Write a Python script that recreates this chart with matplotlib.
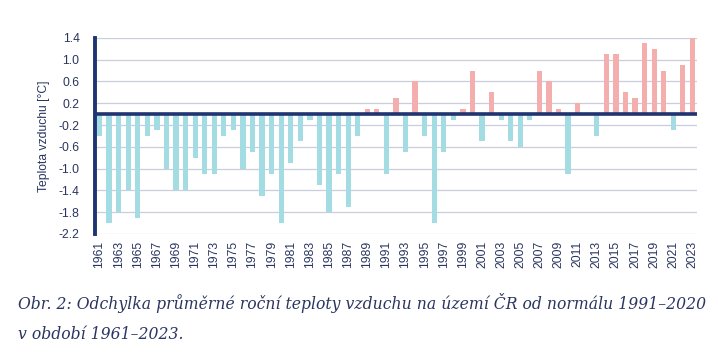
import numpy as np
import matplotlib
matplotlib.use("Agg")
import matplotlib.pyplot as plt
from matplotlib import font_manager

years = np.arange(1961, 2024)
anomaly = [
    -0.4, -2.0, -1.8, -1.4, -1.9, -0.4, -0.3, -1.0, -1.4, -1.4,   # 1961-1970
    -0.8, -1.1, -1.1, -0.4, -0.3, -1.0, -0.7, -1.5, -1.1, -2.0,   # 1971-1980
    -0.9, -0.5, -0.1, -1.3, -1.8, -1.1, -1.7, -0.4, 0.1, 0.1,     # 1981-1990
    -1.1, 0.3, -0.7, 0.6, -0.4, -2.0, -0.7, -0.1, 0.1, 0.8,       # 1991-2000
    -0.5, 0.4, -0.1, -0.5, -0.6, -0.1, 0.8, 0.6, 0.1, -1.1,       # 2001-2010
    0.2, 0.0, -0.4, 1.1, 1.1, 0.4, 0.3, 1.3, 1.2, 0.8,            # 2011-2020
    -0.3, 0.9, 1.4,                                               # 2021-2023
]
yticks = [1.4, 1.0, 0.6, 0.2, -0.2, -0.6, -1.0, -1.4, -1.8, -2.2]
caption = ("Obr. 2: Odchylka průměrné roční teploty vzduchu na území ČR od normálu 1991\u20132020\n"
           "v období 1961\u20132023.")

navy = "#1F3470"
text_col = "#2A3560"
pos_col = "#F4AEAE"
neg_col = "#A3DCE3"

plt.rcParams["font.family"] = ["Liberation Sans", "DejaVu Sans"]

anomaly = np.array(anomaly)
colors = [pos_col if v > 0 else neg_col for v in anomaly]

fig = plt.figure(figsize=(7.18, 3.61), dpi=100)
ax = fig.add_axes([0.132, 0.352, 0.839, 0.543])

ax.set_axisbelow(True)
ax.yaxis.grid(True, color="#C9CEDD", linewidth=0.9)
ax.bar(years, anomaly, width=0.55, color=colors, zorder=2)
ax.axhline(0, color=navy, linewidth=2.6, zorder=3)

ax.set_xlim(1960.5, 2023.5)
ax.set_ylim(-2.2, 1.4)
ax.set_yticks(yticks)
ax.set_yticklabels(["%.1f" % t for t in yticks])
ax.set_xticks(years[::2])
ax.set_xticklabels([str(y) for y in years[::2]], rotation=90)
ax.tick_params(axis="both", length=0, labelsize=8.7, colors=text_col, pad=5)
ax.tick_params(axis="y", pad=11)

for s in ["top", "right", "bottom"]:
    ax.spines[s].set_visible(False)
ax.spines["left"].set_color(navy)
ax.spines["left"].set_linewidth(2.8)

ax.set_ylabel("Teplota vzduchu [°C]", fontsize=8.7, color=text_col, labelpad=6)

cap_font = font_manager.FontProperties(family="DejaVu Serif", style="italic", size=11.25)
fig.text(0.025, 0.118, caption, fontproperties=cap_font, color=text_col,
         va="center", ha="left", linespacing=2.0)

fig.savefig("out.png", dpi=100, facecolor="white")
